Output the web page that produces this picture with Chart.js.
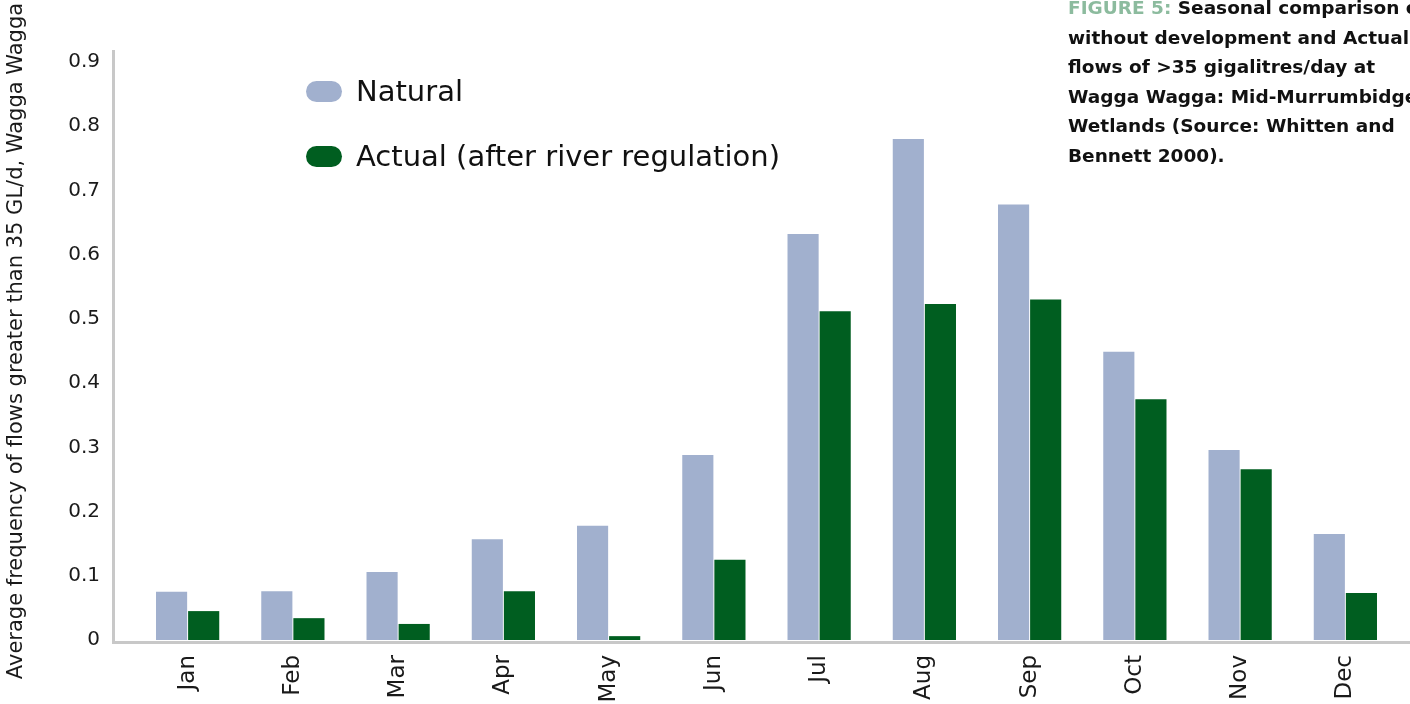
<!DOCTYPE html>
<html>
<head>
<meta charset="utf-8">
<script src="https://cdn.jsdelivr.net/npm/chart.js"></script>
<style>
  html, body { margin: 0; padding: 0; background: #fff; overflow: hidden; }
  #wrap { position: relative; width: 1410px; height: 704px; }
  #flowChart { position: absolute; left: 0; top: 0; }
  .caption {
    position: absolute; left: 1068px; top: -7px;
    font-family: "DejaVu Sans", sans-serif; font-weight: bold; font-size: 18.5px;
    line-height: 29.6px; color: #111; white-space: nowrap;
  }
  .caption .fig { color: #8cbb9e; }
  .legend { position: absolute; left: 306px; top: 70px; font-family: "DejaVu Sans", sans-serif; }
  .legend .item { display: flex; align-items: center; height: 42px; margin-bottom: 23px; }
  .legend .swatch { width: 36px; height: 21px; border-radius: 11px; margin-right: 14px; }
  .legend .label { font-size: 29px; color: #111; }
</style>
</head>
<body>
<div id="wrap">
  <canvas id="flowChart" width="1410" height="704"></canvas>
  <div class="legend" id="legend"></div>
  <div class="caption">
    <span class="fig">FIGURE 5:</span> Seasonal comparison of<br>
    without development and Actual<br>
    flows of &gt;35 gigalitres/day at<br>
    Wagga Wagga: Mid-Murrumbidgee<br>
    Wetlands (Source: Whitten and<br>
    Bennett 2000).
  </div>
</div>
<script>
var months = ['Jan', 'Feb', 'Mar', 'Apr', 'May', 'Jun', 'Jul', 'Aug', 'Sep', 'Oct', 'Nov', 'Dec'];
var natural = [0.075, 0.076, 0.106, 0.157, 0.178, 0.288, 0.632, 0.780, 0.678, 0.449, 0.296, 0.165];
var actual = [0.045, 0.034, 0.025, 0.076, 0.006, 0.125, 0.512, 0.523, 0.530, 0.375, 0.266, 0.073];
var yTicks = [0, 0.1, 0.2, 0.3, 0.4, 0.5, 0.6, 0.7, 0.8, 0.9];

var fontFamily = '"DejaVu Sans", sans-serif';
var axisGrey = '#c8c8c8';

// axis lines sit a little left of / below the plot area
var axisLines = {
    id: 'axisLines',
    afterDatasetsDraw: function (chart) {
        var ctx = chart.ctx;
        var a = chart.chartArea;
        ctx.save();
        ctx.strokeStyle = axisGrey;
        ctx.lineWidth = 3;
        ctx.beginPath();
        ctx.moveTo(a.left - 21.5, a.top - 12);
        ctx.lineTo(a.left - 21.5, a.bottom + 2.5);
        ctx.lineTo(chart.width, a.bottom + 2.5);
        ctx.stroke();
        ctx.restore();
    }
};

// y title drawn by hand so it can sit a bit above the plot centre
var yTitle = {
    id: 'yTitle',
    afterDraw: function (chart) {
        var ctx = chart.ctx;
        ctx.save();
        ctx.translate(17, 341);
        ctx.rotate(-Math.PI / 2);
        ctx.font = '21px ' + fontFamily;
        ctx.fillStyle = '#1a1a1a';
        ctx.textAlign = 'center';
        ctx.textBaseline = 'middle';
        ctx.fillText('Average frequency of flows greater than 35 GL/d, Wagga Wagga', 0, 0);
        ctx.restore();
    }
};

var ctx = document.getElementById('flowChart').getContext('2d');
var flowChart = new Chart(ctx, {
    type: 'bar',
    data: {
        labels: months,
        datasets: [{
            label: 'Natural',
            data: natural,
            backgroundColor: '#a1b0ce'
        }, {
            label: 'Actual (after river regulation)',
            data: actual,
            backgroundColor: '#005e20'
        }]
    },
    options: {
        responsive: false,
        animation: false,
        layout: { padding: { top: 62, right: 12, bottom: 0, left: 0 } },
        datasets: {
            bar: { categoryPercentage: 0.61, barPercentage: 0.97 }
        },
        plugins: {
            legend: { display: false },
            tooltip: { enabled: false }
        },
        scales: {
            x: {
                grid: { display: false, drawTicks: false },
                border: { display: false },
                afterFit: function (scale) { scale.height = 64; },
                ticks: {
                    minRotation: 90, maxRotation: 90, padding: 15,
                    color: '#1a1a1a', font: { family: fontFamily, size: 23 }
                }
            },
            y: {
                min: 0, max: 0.9,
                grid: { display: false, drawTicks: false },
                border: { display: false },
                afterBuildTicks: function (scale) {
                    scale.ticks = yTicks.map(function (v) { return { value: v }; });
                },
                afterFit: function (scale) { scale.width = 135; },
                ticks: {
                    padding: 35, color: '#1a1a1a',
                    font: { family: fontFamily, size: 20 },
                    callback: function (v) { return v === 0 ? '0' : v.toFixed(1); }
                }
            }
        }
    },
    plugins: [axisLines, yTitle]
});

// legend built from the datasets
var legendBox = document.getElementById('legend');
flowChart.data.datasets.forEach(function (ds) {
    var item = document.createElement('div');
    item.className = 'item';
    item.innerHTML = '<span class="swatch" style="background:' + ds.backgroundColor + '"></span>' +
        '<span class="label">' + ds.label + '</span>';
    legendBox.appendChild(item);
});
</script>
</body>
</html>
